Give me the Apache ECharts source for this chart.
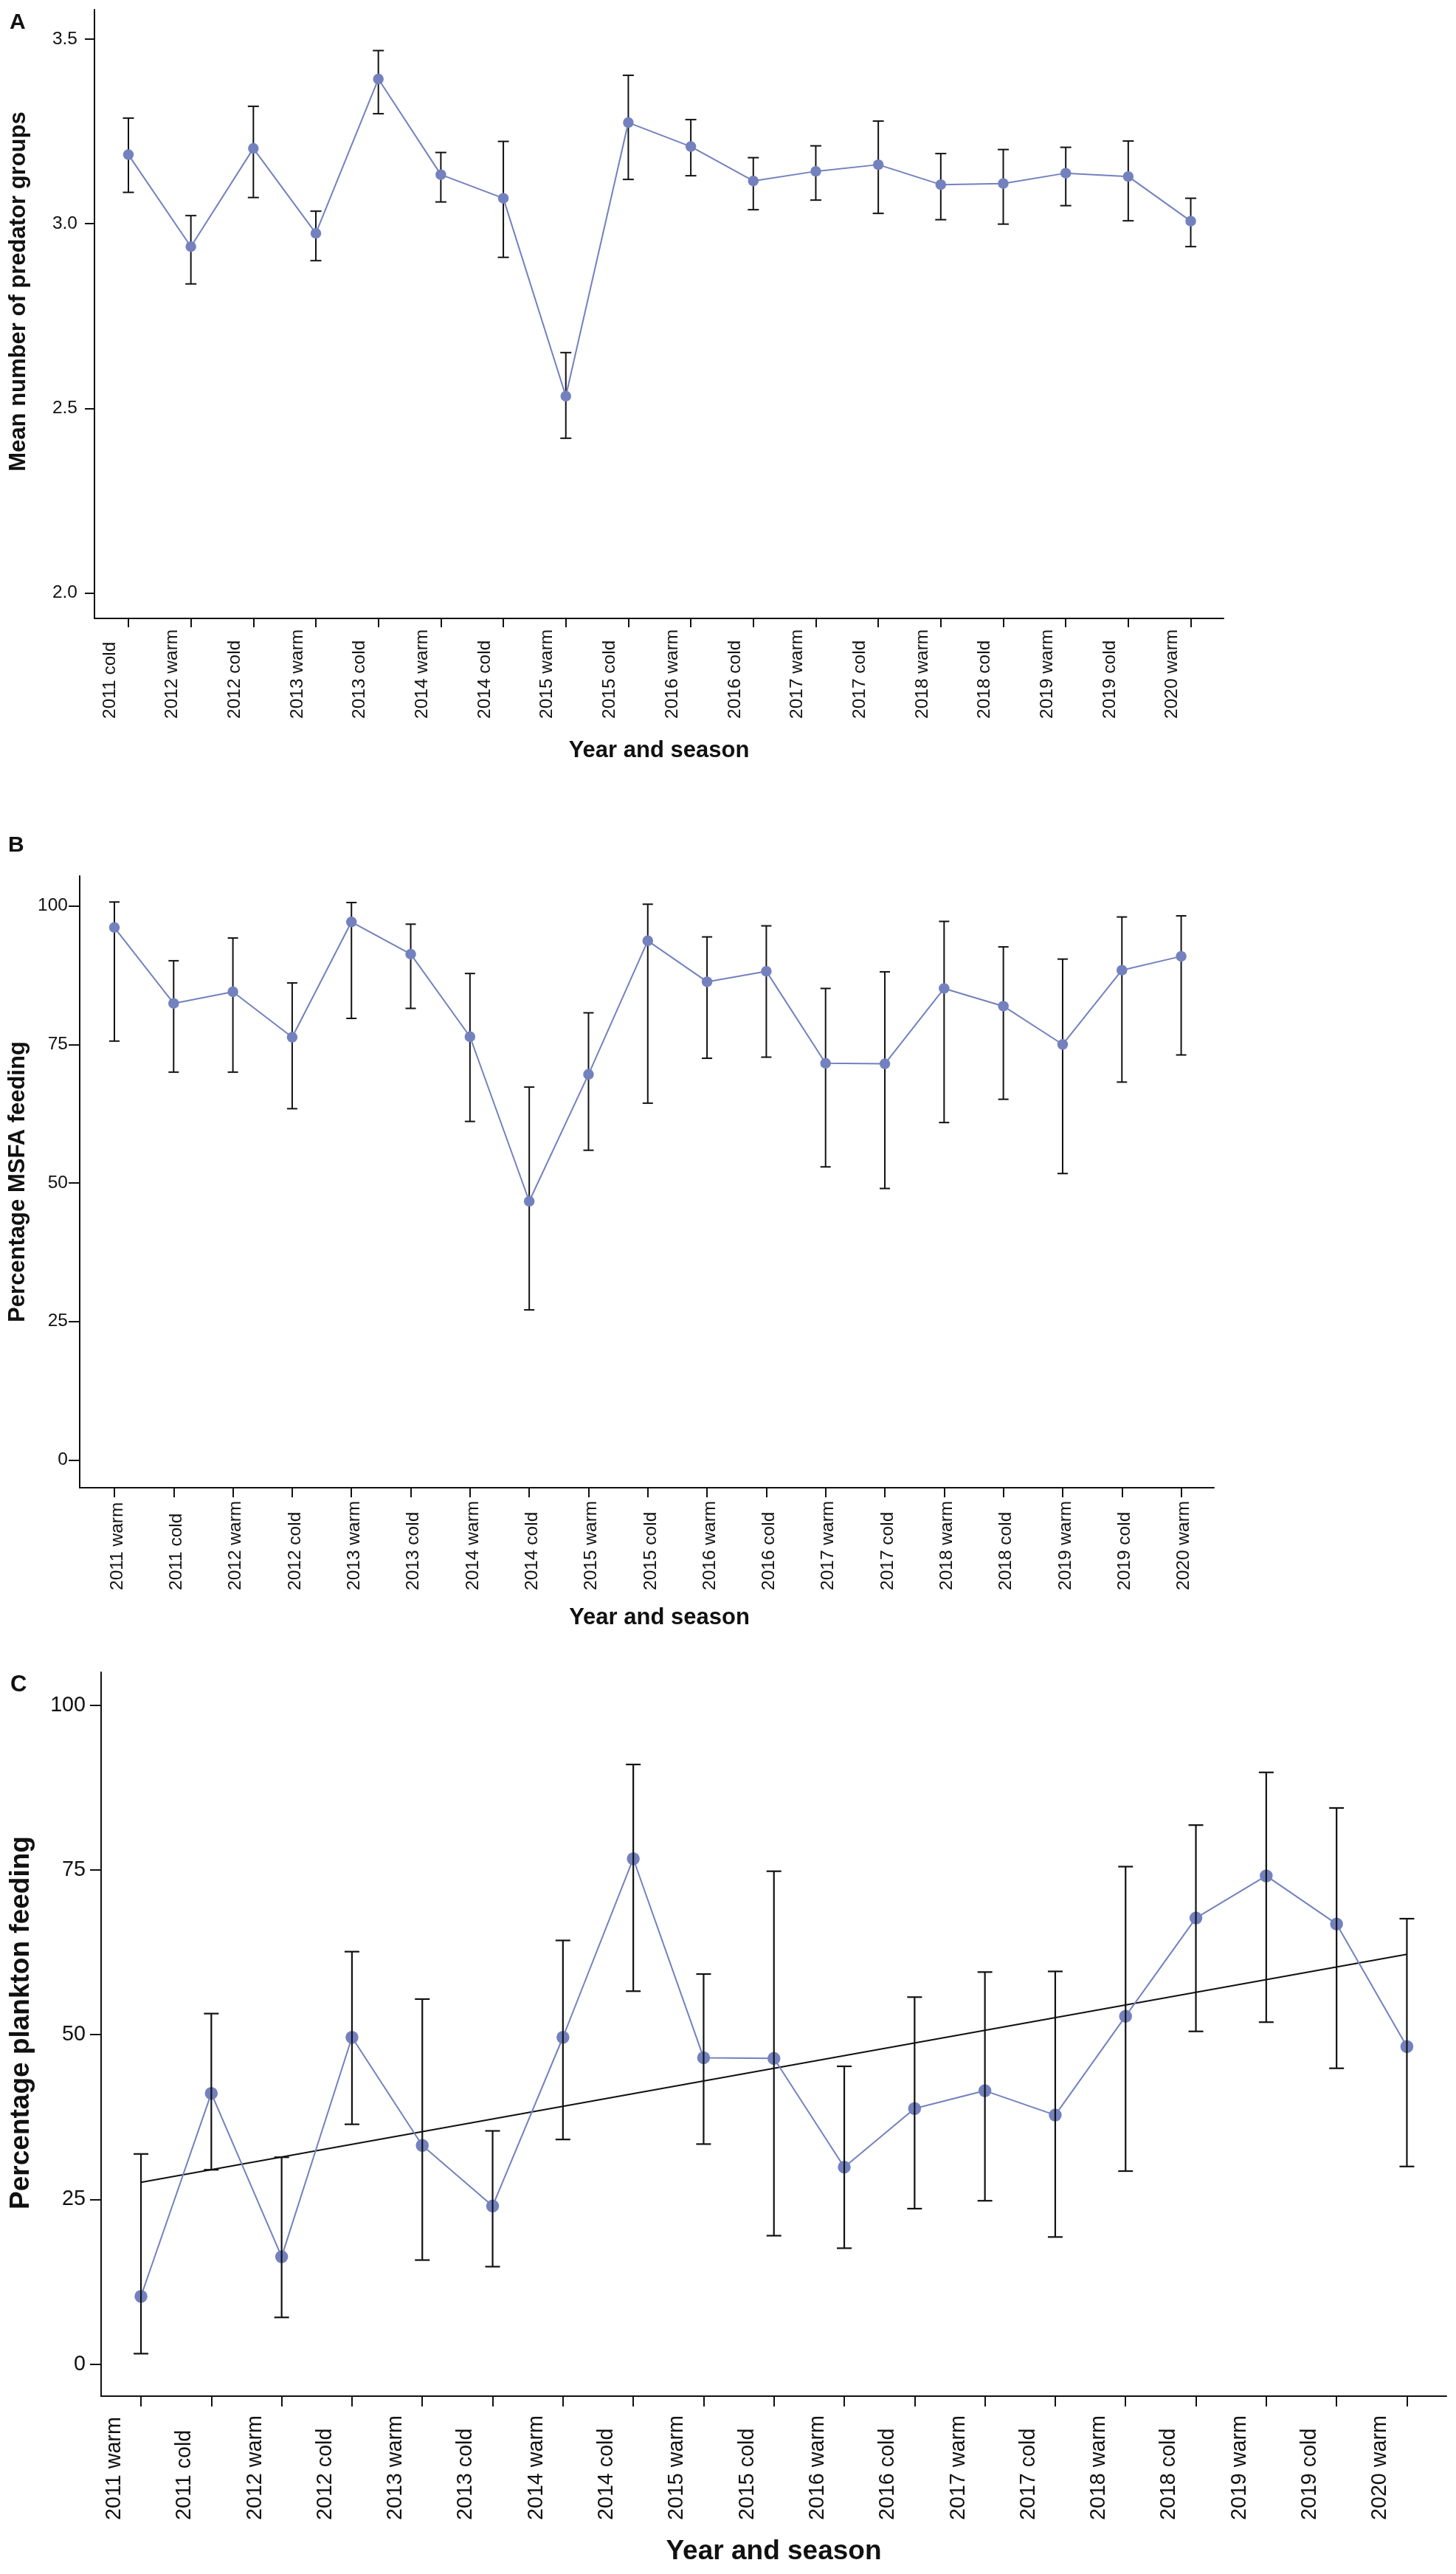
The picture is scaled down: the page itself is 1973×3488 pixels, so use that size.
<!DOCTYPE html>
<html>
<head>
<meta charset="utf-8">
<script src="https://cdn.jsdelivr.net/npm/echarts@6/dist/echarts.min.js"></script>
<style>
  html, body { margin: 0; padding: 0; background: #ffffff; }
  #chart { width: 1973px; height: 3488px; }
</style>
</head>
<body>
<div id="chart"></div>
<script>
// ---------- Panel A data ----------
const catsA = ['2011 cold','2012 warm','2012 cold','2013 warm','2013 cold','2014 warm','2014 cold','2015 warm','2015 cold',
  '2016 warm','2016 cold','2017 warm','2017 cold','2018 warm','2018 cold','2019 warm','2019 cold','2020 warm'];
const meanA = [3.187, 2.938, 3.204, 2.974, 3.392, 3.133, 3.069, 2.533, 3.274, 3.209, 3.116, 3.142, 3.160, 3.106, 3.109, 3.137, 3.128, 3.007];
const upA   = [3.286, 3.022, 3.318, 3.034, 3.469, 3.193, 3.223, 2.651, 3.402, 3.282, 3.179, 3.211, 3.278, 3.190, 3.201, 3.207, 3.224, 3.069];
const loA   = [3.085, 2.837, 3.071, 2.900, 3.298, 3.059, 2.909, 2.419, 3.120, 3.130, 3.038, 3.064, 3.028, 3.011, 2.999, 3.049, 3.008, 2.938];
const ticksA = [2.0, 2.5, 3.0, 3.5];

// ---------- Panel B & C categories ----------
const catsBC = ['2011 warm','2011 cold','2012 warm','2012 cold','2013 warm','2013 cold','2014 warm','2014 cold','2015 warm','2015 cold',
  '2016 warm','2016 cold','2017 warm','2017 cold','2018 warm','2018 cold','2019 warm','2019 cold','2020 warm'];

// ---------- Panel B data ----------
const meanB = [96.1, 82.4, 84.5, 76.3, 97.1, 91.3, 76.4, 46.7, 69.6, 93.7, 86.3, 88.2, 71.6, 71.5, 85.1, 81.9, 75.0, 88.4, 90.9];
const upB   = [100.7, 90.1, 94.2, 86.1, 100.6, 96.7, 87.8, 67.3, 80.7, 100.3, 94.4, 96.4, 85.1, 88.1, 97.2, 92.6, 90.4, 98.0, 98.2];
const loB   = [75.6, 70.0, 70.0, 63.4, 79.7, 81.5, 61.1, 27.1, 55.9, 64.4, 72.5, 72.7, 52.9, 49.0, 60.9, 65.1, 51.7, 68.2, 73.1];
const ticksB = [0, 25, 50, 75, 100];

// ---------- Panel C data ----------
const meanC = [10.3, 41.1, 16.3, 49.6, 33.2, 24.0, 49.6, 76.7, 46.5, 46.4, 29.9, 38.8, 41.5, 37.8, 52.8, 67.7, 74.1, 66.8, 48.2];
const upC   = [31.9, 53.2, 31.4, 62.6, 55.4, 35.4, 64.3, 91.0, 59.2, 74.8, 45.2, 55.7, 59.5, 59.6, 75.5, 81.8, 89.8, 84.4, 67.6];
const loC   = [1.6, 29.5, 7.1, 36.4, 15.8, 14.8, 34.1, 56.6, 33.4, 19.5, 17.6, 23.6, 24.8, 19.3, 29.3, 50.5, 51.9, 44.9, 30.0];
const trendC = [[0, 27.6], [18, 62.2]];
const ticksC = [0, 25, 50, 75, 100];

const FONT = 'Arial, "Liberation Sans", Helvetica, sans-serif';
const INK = '#111111';
const BLUE = '#7381be';

const chart = echarts.init(document.getElementById('chart'), null, { renderer: 'canvas' });

function idx(n) { return Array.from({ length: n }, (_, i) => i); }

function errRender(cap, lw) {
  return function (params, api) {
    const x = api.value(0), lo = api.value(1), hi = api.value(2);
    const a = api.coord([x, lo]);
    const b = api.coord([x, hi]);
    const style = { stroke: INK, lineWidth: lw };
    return {
      type: 'group',
      children: [
        { type: 'line', shape: { x1: a[0], y1: a[1], x2: b[0], y2: b[1] }, style: style },
        { type: 'line', shape: { x1: a[0] - cap, y1: a[1], x2: a[0] + cap, y2: a[1] }, style: style },
        { type: 'line', shape: { x1: b[0] - cap, y1: b[1], x2: b[0] + cap, y2: b[1] }, style: style }
      ]
    };
  };
}

// vAlign/lineH shift the rotated labels sideways relative to their ticks
function xAxisFor(gi, cats, min, max, fs, margin, vAlign, lineH, tickLen, nameGap, namePad, nameFs) {
  return {
    type: 'value', gridIndex: gi, min: min, max: max,
    name: 'Year and season', nameLocation: 'middle', nameGap: nameGap,
    nameTextStyle: { fontFamily: FONT, fontWeight: 'bold', fontSize: nameFs, color: INK, padding: namePad },
    axisLine: { show: true, onZero: false, lineStyle: { color: INK, width: 2 } },
    axisTick: { show: true, length: tickLen, lineStyle: { color: INK, width: 2 }, customValues: idx(cats.length) },
    axisLabel: {
      show: true, rotate: 90, align: 'left', verticalAlign: vAlign, lineHeight: lineH, margin: margin,
      fontFamily: FONT, fontSize: fs, color: INK,
      customValues: idx(cats.length),
      formatter: function (v) { return cats[Math.round(v)]; }
    },
    splitLine: { show: false }
  };
}

function yAxisFor(gi, name, min, max, ticks, fs, margin, tickLen, nameGap, namePad, nameFs, digits) {
  return {
    type: 'value', gridIndex: gi, min: min, max: max,
    name: name, nameLocation: 'middle', nameGap: nameGap, nameRotate: 90,
    nameTextStyle: { fontFamily: FONT, fontWeight: 'bold', fontSize: nameFs, color: INK, padding: namePad },
    axisLine: { show: true, onZero: false, lineStyle: { color: INK, width: 2 } },
    axisTick: { show: true, length: tickLen, lineStyle: { color: INK, width: 2 }, customValues: ticks },
    axisLabel: {
      show: true, margin: margin, fontFamily: FONT, fontSize: fs, color: INK,
      customValues: ticks,
      formatter: function (v) { return v.toFixed(digits); }
    },
    splitLine: { show: false }
  };
}

const option = {
  backgroundColor: '#ffffff',
  animation: false,
  grid: [
    { left: 128, top: 13, width: 1530, height: 825 },
    { left: 108, top: 1187, width: 1537, height: 829 },
    { left: 137, top: 2266, width: 1823, height: 981 }
  ],
  graphic: [
    { type: 'text', left: 13, top: 16, style: { text: 'A', font: 'bold 30px ' + FONT, fill: INK } },
    { type: 'text', left: 11, top: 1131, style: { text: 'B', font: 'bold 30px ' + FONT, fill: INK } },
    { type: 'text', left: 14, top: 2268, style: { text: 'C', font: 'bold 31px ' + FONT, fill: INK } }
  ],
  xAxis: [
    xAxisFor(0, catsA, -0.543, 17.525, 24.5, 136, 'bottom', 50, 12, 164, [0, 0, 0, 0], 31),
    xAxisFor(1, catsBC, -0.585, 18.553, 24.5, 139, 'top', 8, 13, 161, [0, 0, 0, 34], 31),
    xAxisFor(2, catsBC, -0.567, 18.562, 28.7, 168, 'bottom', 72, 14, 192, [0, 0, 0, 0], 37)
  ],
  yAxis: [
    yAxisFor(0, 'Mean number of predator groups', 1.931, 3.58, ticksA, 24.5, 23, 13, 87, [0, 0, 0, 61], 31, 1),
    yAxisFor(1, 'Percentage MSFA feeding', -5.0, 105.4, ticksB, 24.5, 16, 15, 68, [0, 0, 0, 0], 31, 0),
    yAxisFor(2, 'Percentage plankton feeding', -4.85, 105.0, ticksC, 28.7, 21, 15, 90, [0, 0, 0, 31], 37, 0)
  ],
  series: [
    // Panel A
    { type: 'custom', xAxisIndex: 0, yAxisIndex: 0, renderItem: errRender(7.5, 2), z: 2,
      encode: { x: 0, y: [1, 2] }, data: meanA.map((v, i) => [i, loA[i], upA[i]]) },
    { type: 'line', xAxisIndex: 0, yAxisIndex: 0, z: 3, symbol: 'circle', symbolSize: 14.5,
      itemStyle: { color: BLUE }, lineStyle: { color: BLUE, width: 2 },
      data: meanA.map((v, i) => [i, v]) },
    // Panel B
    { type: 'custom', xAxisIndex: 1, yAxisIndex: 1, renderItem: errRender(7, 2), z: 2,
      encode: { x: 0, y: [1, 2] }, data: meanB.map((v, i) => [i, loB[i], upB[i]]) },
    { type: 'line', xAxisIndex: 1, yAxisIndex: 1, z: 3, symbol: 'circle', symbolSize: 14.5,
      itemStyle: { color: BLUE }, lineStyle: { color: BLUE, width: 2 },
      data: meanB.map((v, i) => [i, v]) },
    // Panel C
    { type: 'line', xAxisIndex: 2, yAxisIndex: 2, z: 2, symbol: 'none',
      lineStyle: { color: INK, width: 2 }, data: trendC },
    { type: 'line', xAxisIndex: 2, yAxisIndex: 2, z: 3, symbol: 'circle', symbolSize: 17.5,
      itemStyle: { color: BLUE }, lineStyle: { color: BLUE, width: 2 },
      data: meanC.map((v, i) => [i, v]) },
    { type: 'custom', xAxisIndex: 2, yAxisIndex: 2, renderItem: errRender(10, 2.2), z: 4,
      encode: { x: 0, y: [1, 2] }, data: meanC.map((v, i) => [i, loC[i], upC[i]]) }
  ]
};

chart.setOption(option);
</script>
</body>
</html>
